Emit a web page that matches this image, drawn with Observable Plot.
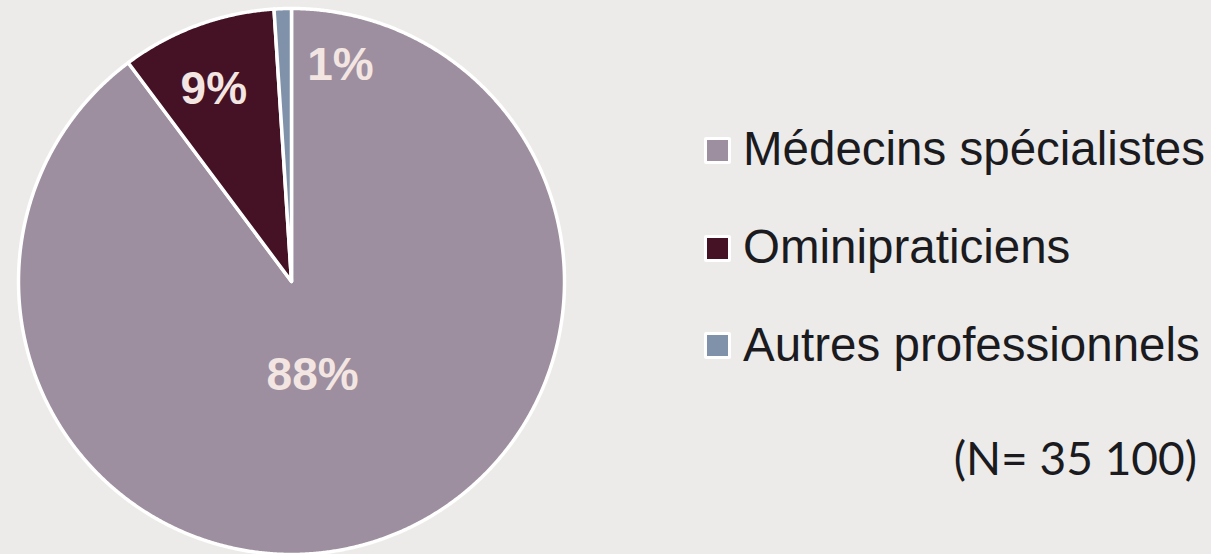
<!DOCTYPE html>
<html>
<head>
<meta charset="utf-8">
<script src="https://cdn.jsdelivr.net/npm/d3@7"></script>
<script src="https://cdn.jsdelivr.net/npm/@observablehq/plot@0.6"></script>
<style>
  html, body { margin: 0; padding: 0; background: #ECEBE9; }
  #wrap { position: relative; width: 1211px; height: 554px; background: #ECEBE9; overflow: hidden; }
  #chart { position: absolute; left: 0; top: 0; }
  .lg-sw { position: absolute; left: 704px; width: 27px; height: 27px; box-sizing: border-box; border: 3.5px solid #fff; border-radius: 2px; }
  .lg-tx { position: absolute; left: 743px; font-family: "Liberation Sans", Arial, sans-serif; font-size: 47.5px; line-height: 1; color: #1b1b1f; white-space: nowrap; }
  #note { position: absolute; right: 14px; font-family: Lato, "Open Sans", sans-serif; font-size: 46px; line-height: 1; color: #1b1b1f; white-space: nowrap; }
</style>
</head>
<body>
<div id="wrap"><div id="chart"></div></div>
<script>
// ---- data ----
const categories = ["Médecins spécialistes", "Ominipraticiens", "Autres professionnels"];
const values = [88, 9, 1];
const labels = ["88%", "9%", "1%"];
const colors = ["#9D8F9F", "#441224", "#8092AA"];
const note = "(N= 35 100)";

// ---- pie geometry (clockwise from 12 o'clock) ----
const arcs = d3.pie().sort(null).value(d => d)(values);
const rows = [];
arcs.forEach((a, i) => {
  const cat = categories[i];
  rows.push({cat, x: 0, y: 0});
  const n = Math.max(2, Math.ceil((a.endAngle - a.startAngle) / 0.005));
  for (let k = 0; k <= n; k++) {
    const t = a.startAngle + (a.endAngle - a.startAngle) * k / n;
    rows.push({cat, x: Math.sin(t), y: Math.cos(t)});
  }
});
const slices = arcs.map((a, i) => ({cat: categories[i], label: labels[i], mid: (a.startAngle + a.endAngle) / 2}));

function sliceLabel(i, r, dx, dy) {
  return Plot.text([slices[i]], {
    x: d => Math.sin(d.mid) * r,
    y: d => Math.cos(d.mid) * r,
    text: "label",
    dx, dy,
    fill: "#F3E6E2",
    fontSize: 46,
    fontWeight: "bold",
    fontFamily: "Liberation Sans, Arial, sans-serif",
    textAnchor: "middle",
    lineAnchor: "middle"
  });
}

const chart = Plot.plot({
  width: 1211,
  height: 554,
  marginLeft: 18,
  marginRight: 647,
  marginTop: 8,
  marginBottom: 0,
  style: {background: "transparent", overflow: "visible"},
  x: {domain: [-1, 1], axis: null},
  y: {domain: [-1, 1], axis: null},
  color: {domain: categories, range: colors},
  marks: [
    Plot.line(rows, {
      x: "x", y: "y", z: "cat", fill: "cat",
      stroke: "#ffffff", strokeWidth: 3.5, strokeLinejoin: "round",
      curve: "linear-closed"
    }),
    sliceLabel(0, 0.35, -9, 3),
    sliceLabel(1, 0.76, -6, 2),
    sliceLabel(2, 0.8, 56, 2)
  ]
});
document.getElementById("chart").appendChild(chart);

// ---- legend ----
const wrap = document.getElementById("wrap");
const swTops = [137, 234.5, 332];
const txTops = [125, 223, 321];
categories.forEach((c, i) => {
  const sw = document.createElement("div");
  sw.className = "lg-sw";
  sw.style.top = swTops[i] + "px";
  sw.style.background = colors[i];
  wrap.appendChild(sw);
  const tx = document.createElement("div");
  tx.className = "lg-tx";
  tx.style.top = txTops[i] + "px";
  tx.textContent = c;
  wrap.appendChild(tx);
});
const nt = document.createElement("div");
nt.id = "note";
nt.style.top = "435px";
nt.textContent = note;
wrap.appendChild(nt);
</script>
</body>
</html>
